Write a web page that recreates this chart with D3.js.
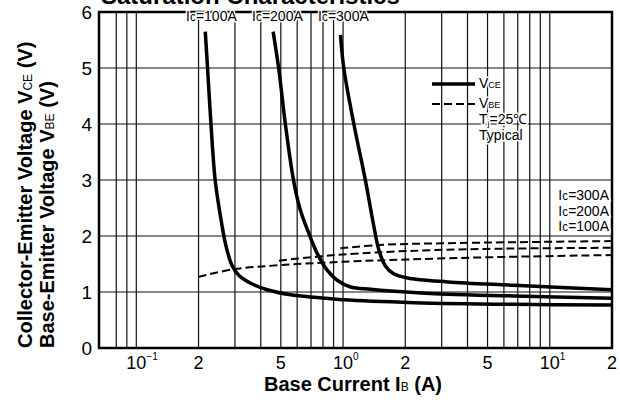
<!DOCTYPE html>
<html>
<head>
<meta charset="utf-8">
<script src="https://cdn.jsdelivr.net/npm/d3@7"></script>
<style>
  body { margin: 0; background: #fff; }
  svg { display: block; font-family: "Liberation Sans", Arial, sans-serif; }
</style>
</head>
<body>
<svg width="620" height="405"></svg>
<script>
// base current (A) vs voltage (V)
const vce100 = [[0.2156,5.65],[0.2212,4.99],[0.2297,4.0],[0.241,2.98],[0.257,2.29],[0.272,1.81],[0.29,1.48],[0.313,1.3],[0.356,1.16],[0.43,1.04],[0.557,0.95],[0.75,0.9],[1.0,0.86],[2.2,0.81],[6.7,0.78],[20,0.77]];
const vce200 = [[0.459,5.65],[0.4885,4.99],[0.526,4.0],[0.577,2.98],[0.622,2.46],[0.683,2.05],[0.75,1.69],[0.838,1.39],[0.937,1.21],[1.087,1.09],[1.36,1.05],[1.7,1.02],[3.2,0.96],[6.7,0.93],[20,0.89]];
const vce300 = [[0.972,5.59],[1.009,4.99],[1.128,4.0],[1.285,2.98],[1.41,2.17],[1.49,1.75],[1.6,1.47],[1.75,1.33],[2.05,1.25],[3.2,1.18],[6.7,1.12],[20,1.04]];
const vbe100 = [[0.2,1.27],[0.3,1.41],[0.5,1.48],[1,1.54],[2,1.58],[5,1.62],[20,1.66]];
const vbe200 = [[0.49,1.56],[0.7,1.62],[1,1.67],[2,1.73],[5,1.77],[20,1.79]];
const vbe300 = [[0.97,1.78],[1.5,1.84],[3,1.87],[7,1.89],[20,1.91]];

const xGrid = [0.08,0.09,0.1,0.2,0.3,0.4,0.5,0.6,0.7,0.8,0.9,1,2,3,4,5,6,7,8,9,10];
const yGrid = [1,2,3,4,5];
const yTicks = [0,1,2,3,4,5,6];
const xTicks = [0.1,0.2,0.5,1,2,5,10,20];
const xTickBase = ["10","2","5","10","2","5","10","2"];
const xTickExp  = ["\u22121","","","0","","","1",""];
const curveLabels = ["100A","200A","300A"];

const svg = d3.select("svg");
const x = d3.scaleLog().domain([0.066,20]).range([99,612]);
const y = d3.scaleLinear().domain([0,6]).range([348,12]);

// grid
svg.append("g").selectAll("line").data(xGrid).enter().append("line")
  .attr("x1",d=>x(d)).attr("x2",d=>x(d))
  .attr("y1",y(0)).attr("y2",y(6))
  .attr("stroke","#111").attr("stroke-width",1.2);
svg.append("g").selectAll("line").data(yGrid).enter().append("line")
  .attr("x1",x(0.066)).attr("x2",x(20))
  .attr("y1",d=>y(d)).attr("y2",d=>y(d))
  .attr("stroke","#111").attr("stroke-width",1.2);

// frame
svg.append("rect")
  .attr("x",x(0.066)).attr("y",y(6))
  .attr("width",x(20)-x(0.066)).attr("height",y(0)-y(6))
  .attr("fill","none").attr("stroke","#000").attr("stroke-width",2.5);

// tick labels
svg.append("g").selectAll("text").data(yTicks).enter().append("text")
  .attr("x",92).attr("y",d=>y(d)+7)
  .attr("text-anchor","end").attr("font-size",19)
  .text(d=>d);

const xt = svg.append("g").selectAll("g").data(xTicks).enter().append("g");
xt.append("text")
  .attr("x",d=>x(d)).attr("y",369)
  .attr("text-anchor","middle").attr("font-size",18)
  .text((d,i)=>xTickBase[i]);
xt.append("text")
  .attr("x",d=>x(d)+10).attr("y",360)
  .attr("font-size",10)
  .text((d,i)=>xTickExp[i]);

// curves
const line = d3.line().x(d=>x(d[0])).y(d=>y(d[1])).curve(d3.curveCatmullRom.alpha(0.5));
[vce100,vce200,vce300].forEach(s=>{
  svg.append("path").datum(s).attr("d",line)
    .attr("fill","none").attr("stroke","#000").attr("stroke-width",3.5)
    .attr("stroke-linejoin","round");
});
[vbe100,vbe200,vbe300].forEach(s=>{
  svg.append("path").datum(s).attr("d",line)
    .attr("fill","none").attr("stroke","#000").attr("stroke-width",2)
    .attr("stroke-dasharray","8,4");
});

// label helper: "Ic=xxxA" with white halo
function icLabel(px,py,val,anchor){
  const t = svg.append("text").attr("x",px).attr("y",py)
    .attr("font-size",14).attr("text-anchor",anchor||"start")
    .attr("stroke","#fff").attr("stroke-width",3).attr("paint-order","stroke");
  t.append("tspan").text("I");
  t.append("tspan").attr("font-size",12).text("c");
  t.append("tspan").text("=" + val);
  return t;
}
// labels above the curves
icLabel(186,21,curveLabels[0]);
icLabel(252,21,curveLabels[1]);
icLabel(318,21,curveLabels[2]);
// labels for the dashed curves
icLabel(609,200,curveLabels[2],"end");
icLabel(609,216,curveLabels[1],"end");
icLabel(609,231,curveLabels[0],"end");

// legend
svg.append("line").attr("x1",432).attr("x2",475).attr("y1",84).attr("y2",84)
  .attr("stroke","#000").attr("stroke-width",3.5);
svg.append("line").attr("x1",432).attr("x2",475).attr("y1",104).attr("y2",104)
  .attr("stroke","#000").attr("stroke-width",2).attr("stroke-dasharray","8,4");
function halo(t){ return t.attr("stroke","#fff").attr("stroke-width",3).attr("paint-order","stroke"); }
let t = halo(svg.append("text").attr("x",479).attr("y",88).attr("font-size",14));
t.append("tspan").text("V");
t.append("tspan").attr("font-size",9).text("CE");
t = halo(svg.append("text").attr("x",479).attr("y",108).attr("font-size",14));
t.append("tspan").text("V");
t.append("tspan").attr("font-size",9).text("BE");
t = halo(svg.append("text").attr("x",479).attr("y",124).attr("font-size",14));
t.append("tspan").text("T");
t.append("tspan").attr("font-size",9).attr("dy",2).text("j");
t.append("tspan").attr("dy",-2).text("=25\u2103");
halo(svg.append("text").attr("x",479).attr("y",140).attr("font-size",14)).text("Typical");

// title (cut off at top)
svg.append("text").attr("x",101).attr("y",4)
  .attr("font-size",24).attr("font-weight","bold")
  .text("Saturation Characteristics");

// x axis title
t = svg.append("text").attr("x",353).attr("y",391)
  .attr("text-anchor","middle").attr("font-size",20).attr("font-weight","bold");
t.append("tspan").text("Base Current  I");
t.append("tspan").attr("font-size",12).attr("font-weight","normal").text("B");
t.append("tspan").text(" (A)");

// y axis titles
t = svg.append("text").attr("transform","translate(32,348) rotate(-90)")
  .attr("font-size",20).attr("font-weight","bold");
t.append("tspan").text("Collector-Emitter Voltage V");
t.append("tspan").attr("font-size",12).attr("font-weight","normal").text("CE");
t.append("tspan").text(" (V)");
t = svg.append("text").attr("transform","translate(54,348) rotate(-90)")
  .attr("font-size",20).attr("font-weight","bold");
t.append("tspan").text("Base-Emitter Voltage V");
t.append("tspan").attr("font-size",12).attr("font-weight","normal").text("BE");
t.append("tspan").text(" (V)");
</script>
</body>
</html>
